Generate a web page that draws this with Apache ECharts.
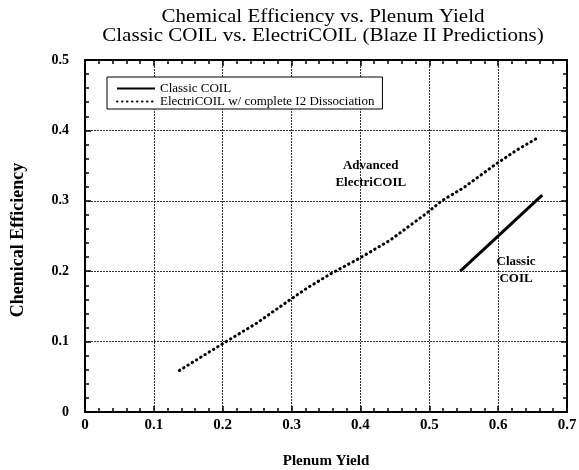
<!DOCTYPE html>
<html><head><meta charset="utf-8">
<script src="https://cdn.jsdelivr.net/npm/echarts@6/dist/echarts.min.js"></script>
<style>html,body{margin:0;padding:0;background:#fff}#c{width:579px;height:470px}</style>
</head><body><div id="c"></div>
<script>
var titleLines = ['Chemical Efficiency vs. Plenum Yield', 'Classic COIL vs. ElectriCOIL (Blaze II Predictions)'];
var xName = 'Plenum Yield';
var yName = 'Chemical Efficiency';
var seriesNames = ['Classic COIL', 'ElectriCOIL w/ complete I2 Dissociation'];
var classicX = [0.545, 0.664];
var classicY = [0.200, 0.308];
var electriX = [0.137, 0.200, 0.249, 0.300, 0.324, 0.358, 0.398, 0.443, 0.497, 0.518, 0.549, 0.595, 0.627, 0.660];
var electriY = [0.059, 0.097, 0.126, 0.161, 0.177, 0.197, 0.218, 0.244, 0.283, 0.300, 0.318, 0.351, 0.372, 0.391];
var annotTexts = ['Advanced\nElectriCOIL', 'Classic\nCOIL'];
var annotX = [0.415, 0.626];
var annotY = [0.338, 0.202];

function pairs(xs, ys){ return xs.map(function(x,i){ return [x, ys[i]]; }); }
var SERIF = '"Liberation Serif", "DejaVu Serif", serif';
var chart = echarts.init(document.getElementById('c'), null, {renderer:'canvas'});
var gridLine = {show:true, lineStyle:{color:'#333', width:1, type:[2,1]}};
var axisCommon = {
  min:0, interval:0.1, type:'value',
  axisLine:{show:true, onZero:false, lineStyle:{color:'#000', width:2}},
  axisTick:{show:true, inside:true, length:6, lineStyle:{color:'#000', width:1.5}},
  minorTick:{show:true, splitNumber:5, length:4, lineStyle:{color:'#000', width:1.5}},
  splitLine:{show:false}
};
function ax(extra){ return Object.assign({}, JSON.parse(JSON.stringify(axisCommon)), extra); }
function fmt(v){ return v===0 ? '0' : String(+v.toFixed(1)); }
chart.setOption({
  animation:false,
  backgroundColor:'#fff',
  color:['#000','#000'],
  grid:{left:85, right:12, top:60, bottom:58, containLabel:false, outerBoundsMode:'none'},
  legend:{
    orient:'vertical', left:107, top:77,
    data:seriesNames,
    itemWidth:38, itemHeight:12, itemGap:0,
    padding:[5,8,1,9],
    borderColor:'#000', borderWidth:1, backgroundColor:'#fff',
    itemStyle:{opacity:0},
    textStyle:{color:'#000', fontFamily:SERIF, fontSize:13, lineHeight:12},
    z:10
  },
  xAxis:[
    ax({max:0.7, position:'bottom', name:xName, nameLocation:'middle', nameGap:42,
        nameTextStyle:{color:'#000', fontFamily:SERIF, fontWeight:'bold', fontSize:15},
        axisLabel:{margin:6, formatter:fmt, color:'#000', fontFamily:SERIF, fontWeight:'bold', fontSize:15},
        splitLine:gridLine}),
    ax({max:0.7, position:'top', axisLabel:{show:false}})
  ],
  yAxis:[
    ax({max:0.5, position:'left', name:yName, nameLocation:'middle', nameGap:58, nameRotate:90,
        nameTextStyle:{color:'#000', fontFamily:SERIF, fontWeight:'bold', fontSize:18, padding:[0,8,0,0]},
        axisLabel:{margin:16, formatter:fmt, color:'#000', fontFamily:SERIF, fontWeight:'bold', fontSize:14},
        splitLine:gridLine}),
    ax({max:0.5, position:'right', axisLabel:{show:false}})
  ],
  series:[
    {name:seriesNames[0], type:'line', data:pairs(classicX, classicY), symbol:'none',
     itemStyle:{color:'#000'}, lineStyle:{color:'#000', width:3}, z:5},
    {name:seriesNames[1], type:'line', data:pairs(electriX, electriY), symbol:'none',
     itemStyle:{color:'#000'}, lineStyle:{color:'#000', width:3, type:[0.5,4.5], cap:'round'}, z:5}
  ]
});
var gfx = [{
  type:'text', x:323, y:8.5, scaleX:1.17, scaleY:1,
  style:{text:titleLines.join('\n'), fill:'#000', font:'18px '+SERIF, align:'center', verticalAlign:'top', lineHeight:18.5}
}];
annotTexts.forEach(function(t,i){
  var p = chart.convertToPixel({xAxisIndex:0, yAxisIndex:0}, [annotX[i], annotY[i]]);
  gfx.push({type:'text', x:p[0], y:p[1], z:20,
    style:{text:t, fill:'#000', font:'bold 13px '+SERIF, align:'center', verticalAlign:'middle', lineHeight:17}});
});
chart.setOption({graphic:gfx});
</script></body></html>
